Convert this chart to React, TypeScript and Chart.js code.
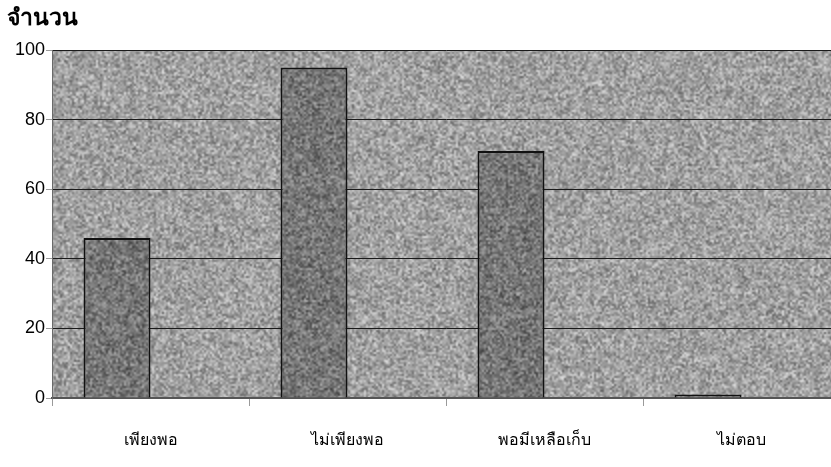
import React, { useEffect, useRef } from "react";
import { Chart, registerables } from "chart.js";

Chart.register(...registerables);

// Answers per category and the y-axis setup
const categories = ["เพียงพอ", "ไม่เพียงพอ", "พอมีเหลือเก็บ", "ไม่ตอบ"];
const counts = [46, 95, 71, 1];
const emptySeries = [null, null, null, null];
const yTicks = [0, 20, 40, 60, 80, 100];
const yTitle = "จำนวน";

const FONT = "'Liberation Sans', Arial, 'DejaVu Sans', sans-serif";
const CANVAS_W = 840;
const CANVAS_H = 467;

// Deterministic grain texture as big as the canvas, so it never visibly repeats
function grainPattern(base: number, spread: number, seed: number): CanvasPattern | string {
  const scale = 2;
  const w = Math.ceil(CANVAS_W / scale);
  const h = Math.ceil(CANVAS_H / scale);
  const c = document.createElement("canvas");
  c.width = w;
  c.height = h;
  const ctx = c.getContext("2d");
  if (!ctx) return `rgb(${base},${base},${base})`;
  const img = ctx.createImageData(w, h);
  let s = seed >>> 0;
  const next = () => {
    s = (s * 1664525 + 1013904223) >>> 0;
    return s / 4294967296;
  };
  for (let i = 0; i < w * h; i++) {
    const v = Math.max(0, Math.min(255, Math.round(base + (next() + next() - 1) * spread)));
    img.data[i * 4] = v;
    img.data[i * 4 + 1] = v;
    img.data[i * 4 + 2] = v;
    img.data[i * 4 + 3] = 255;
  }
  ctx.putImageData(img, 0, 0);
  const big = document.createElement("canvas");
  big.width = w * scale;
  big.height = h * scale;
  const bctx = big.getContext("2d")!;
  bctx.imageSmoothingEnabled = true;
  bctx.imageSmoothingQuality = "high";
  bctx.drawImage(c, 0, 0, w * scale, h * scale);
  const p = bctx.createPattern(big, "repeat");
  return p || `rgb(${base},${base},${base})`;
}

export default function App() {
  const canvasRef = useRef<HTMLCanvasElement | null>(null);

  useEffect(() => {
    const canvas = canvasRef.current;
    if (!canvas) return;

    const plotFill = grainPattern(160, 62, 12345);
    const barFill = grainPattern(118, 58, 67890);

    const plotBackground = {
      id: "plotBackground",
      beforeDraw(chart: any) {
        const { ctx, chartArea } = chart;
        ctx.save();
        ctx.fillStyle = plotFill;
        ctx.fillRect(chartArea.left, chartArea.top, chartArea.right - chartArea.left, chartArea.bottom - chartArea.top);
        ctx.restore();
      },
    };

    const axisTitle = {
      id: "axisTitle",
      afterDraw(chart: any) {
        const { ctx } = chart;
        ctx.save();
        ctx.fillStyle = "#000";
        ctx.font = `bold 23px ${FONT}`;
        ctx.textAlign = "left";
        ctx.textBaseline = "middle";
        ctx.fillText(yTitle, 7, 19);
        ctx.restore();
      },
    };

    const chart = new Chart(canvas, {
      type: "bar",
      data: {
        labels: categories,
        datasets: [
          {
            data: counts,
            backgroundColor: barFill as any,
            borderColor: "#111",
            borderWidth: 2,
            categoryPercentage: 0.68,
            barPercentage: 1,
          },
          {
            data: emptySeries as any,
            backgroundColor: barFill as any,
            borderColor: "#111",
            borderWidth: 2,
            categoryPercentage: 0.68,
            barPercentage: 1,
          },
        ],
      },
      options: {
        animation: false,
        responsive: false,
        maintainAspectRatio: false,
        layout: { padding: { top: 50, right: 0, left: 0, bottom: 0 } },
        plugins: {
          legend: { display: false },
          tooltip: { enabled: false },
          title: { display: false },
        },
        scales: {
          x: {
            grid: {
              display: true,
              drawOnChartArea: false,
              drawTicks: true,
              tickLength: 8,
              tickColor: "#9a9a9a",
              offset: true,
            },
            border: { display: true, color: "#555", width: 2 },
            ticks: {
              color: "#000",
              font: { family: FONT, size: 16 },
              padding: 25,
              maxRotation: 0,
            },
            afterFit(scale: any) {
              scale.height = 69;
            },
          },
          y: {
            min: 0,
            max: 100,
            afterBuildTicks(scale: any) {
              scale.ticks = yTicks.map((v) => ({ value: v }));
            },
            grid: {
              color: (ctx: any) => (ctx.tick && ctx.tick.value === 0 ? "rgba(0,0,0,0)" : "#1a1a1a"),
              lineWidth: 1,
              drawTicks: true,
              tickLength: 6,
              tickColor: "#9a9a9a",
            },
            border: { display: true, color: "#6a6a6a", width: 1 },
            ticks: {
              color: "#000",
              font: { family: FONT, size: 18 },
              padding: 1,
            },
            afterFit(scale: any) {
              scale.width = 52;
            },
          },
        },
      },
      plugins: [plotBackground, axisTitle],
    });

    return () => chart.destroy();
  }, []);

  return (
    <div style={{ position: "fixed", left: 0, top: 0, width: 831, height: 467, overflow: "hidden", background: "#fff" }}>
      <canvas ref={canvasRef} width={CANVAS_W} height={CANVAS_H} style={{ display: "block", width: CANVAS_W, height: CANVAS_H }} />
    </div>
  );
}
